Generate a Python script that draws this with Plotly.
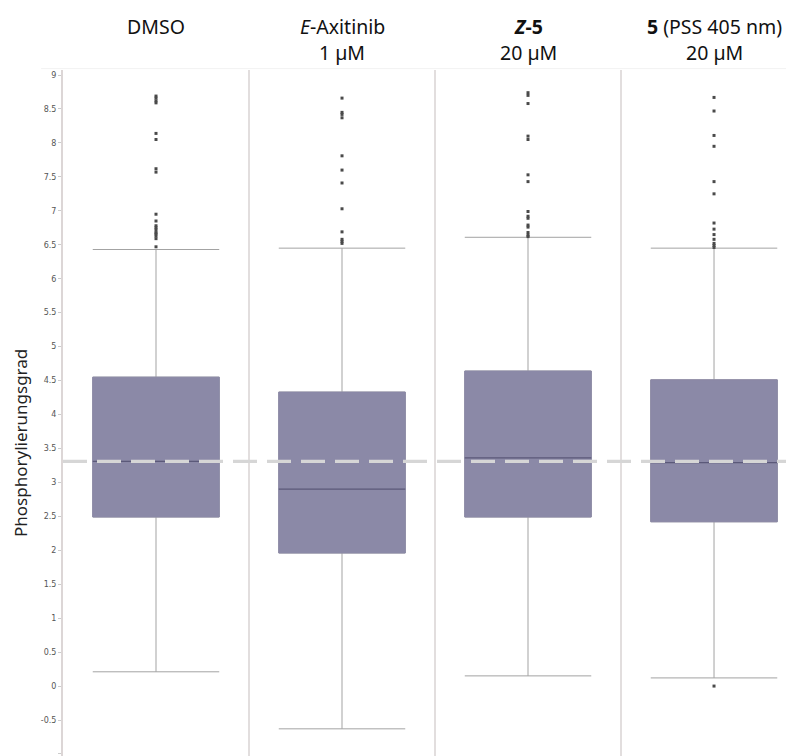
import plotly.graph_objects as go

# ---- data ----
groups = ["DMSO", "E-Axitinib 1 µM", "Z-5 20 µM", "5 (PSS 405 nm) 20 µM"]
header_line1 = ["DMSO", "<i>E</i>-Axitinib", "<b><i>Z</i>-5</b>", "<b>5</b> (PSS 405 nm)"]
header_line2 = ["", "1 µM", "20 µM", "20 µM"]
y_title = "Phosphorylierungsgrad"
q1_vals = [2.49, 1.96, 2.49, 2.42]
median_vals = [3.31, 2.90, 3.36, 3.29]
q3_vals = [4.55, 4.33, 4.64, 4.51]
lower_whisker = [0.21, -0.63, 0.15, 0.12]
upper_whisker = [6.43, 6.45, 6.61, 6.45]

outliers_dmso = [8.69, 8.66, 8.62, 8.59, 8.14, 8.05, 7.62, 7.57, 6.95, 6.85,
                 6.78, 6.75, 6.72, 6.68, 6.66, 6.63, 6.59, 6.47]
outliers_axitinib = [8.66, 8.45, 8.42, 8.37, 7.81, 7.60, 7.41, 7.03, 6.69,
                     6.58, 6.55, 6.52]
outliers_z5 = [8.74, 8.70, 8.58, 8.10, 8.05, 7.53, 7.43, 6.99, 6.92, 6.89,
               6.79, 6.76, 6.68, 6.64, 6.62]
outliers_pss = [8.67, 8.47, 8.11, 7.95, 7.43, 7.25, 6.82, 6.73, 6.65, 6.58,
                6.52, 6.49, 6.46, 0.0]
outliers = [outliers_dmso, outliers_axitinib, outliers_z5, outliers_pss]

reference_level = 3.31
y_ticks = [v / 2 for v in range(-2, 19)]
y_ticktext = [("%g" % v) for v in y_ticks]

# ---- styles ----
BOX_FILL = "#8b89a7"
MEDIAN_COL = "#5b5979"
WHISKER_COL = "#a3a3a3"
POINT_COL = "#4a4a4a"
SEP_COL = "#e2dede"
BOX_W = 0.68
FIG_W, FIG_H = 786, 748   # page body adds an 8px margin
TOP = 62
LEFT = 55
PLOT_H = FIG_H - TOP
PLOT_W = FIG_W - LEFT

fig = go.Figure()
xs = list(range(len(groups)))

for i in xs:
    fig.add_trace(go.Box(
        x=[i], q1=[q1_vals[i]], median=[median_vals[i]], q3=[q3_vals[i]],
        lowerfence=[lower_whisker[i]], upperfence=[upper_whisker[i]],
        width=BOX_W, whiskerwidth=1, fillcolor=BOX_FILL,
        line=dict(color=WHISKER_COL, width=1), boxpoints=False,
        showlegend=False, hoverinfo="skip"))
    fig.add_trace(go.Box(
        x=[i], q1=[q1_vals[i]], median=[median_vals[i]], q3=[q3_vals[i]],
        lowerfence=[q1_vals[i]], upperfence=[q3_vals[i]],
        width=BOX_W, whiskerwidth=0, fillcolor=BOX_FILL,
        line=dict(color=BOX_FILL, width=1), boxpoints=False,
        showlegend=False, hoverinfo="skip"))
    fig.add_trace(go.Scatter(
        x=[i - BOX_W / 2, i + BOX_W / 2], y=[median_vals[i], median_vals[i]],
        mode="lines", line=dict(color=MEDIAN_COL, width=1.3),
        showlegend=False, hoverinfo="skip"))
    fig.add_trace(go.Scatter(
        x=[i] * len(outliers[i]), y=outliers[i], mode="markers",
        marker=dict(symbol="square", size=3, color=POINT_COL),
        showlegend=False))

for i in xs[:-1]:
    fig.add_shape(type="line", xref="x", yref="paper", x0=i + 0.5, x1=i + 0.5,
                  y0=0, y1=1, line=dict(color=SEP_COL, width=2), layer="below")

fig.add_shape(type="line", xref="paper", yref="paper", x0=-0.03, x1=1, y0=1.002, y1=1.002,
              line=dict(color="#f2f2f2", width=1), layer="below")

fig.add_shape(type="line", xref="paper", yref="y", x0=0, x1=1,
              y0=reference_level, y1=reference_level,
              line=dict(color="#d6d6d6", width=3.2, dash="24px,10px"), layer="above")

y_line1 = 1 + (TOP - 18) / PLOT_H
y_line2 = 1 + (TOP - 44) / PLOT_H
for i in xs:
    for txt, yy in ((header_line1[i], y_line1), (header_line2[i], y_line2)):
        if txt:
            fig.add_annotation(x=i, y=yy, xref="x", yref="paper", yanchor="middle",
                               text=txt, showarrow=False,
                               font=dict(family="Noto Sans", size=19.5, color="#111"))

# y-axis title (placed lower than centre, as in the reference)
fig.add_annotation(x=(12 - LEFT) / PLOT_W, y=1 - (435 - TOP) / PLOT_H,
                   xref="paper", yref="paper", xanchor="center", yanchor="middle",
                   text=y_title, textangle=-90, showarrow=False,
                   font=dict(family="Noto Sans", size=17, color="#222"))

fig.update_layout(
    width=FIG_W, height=FIG_H,
    margin=dict(l=LEFT, r=0, t=TOP, b=0, autoexpand=False),
    paper_bgcolor="white", plot_bgcolor="white",
    boxmode="overlay",
    xaxis=dict(range=[-0.5, 3.43], showticklabels=False, showgrid=False,
               zeroline=False, ticks="", automargin=False),
    yaxis=dict(range=[-1.03, 9.074], tickvals=y_ticks, ticktext=y_ticktext,
               showgrid=False, zeroline=False, showline=True, automargin=False,
               linecolor="#dcd6d6", linewidth=2,
               ticks="outside", ticklen=3, tickcolor="#cccccc",
               tickfont=dict(family="DejaVu Sans", size=8, color="#555")),
)

fig.write_html("out.html")
